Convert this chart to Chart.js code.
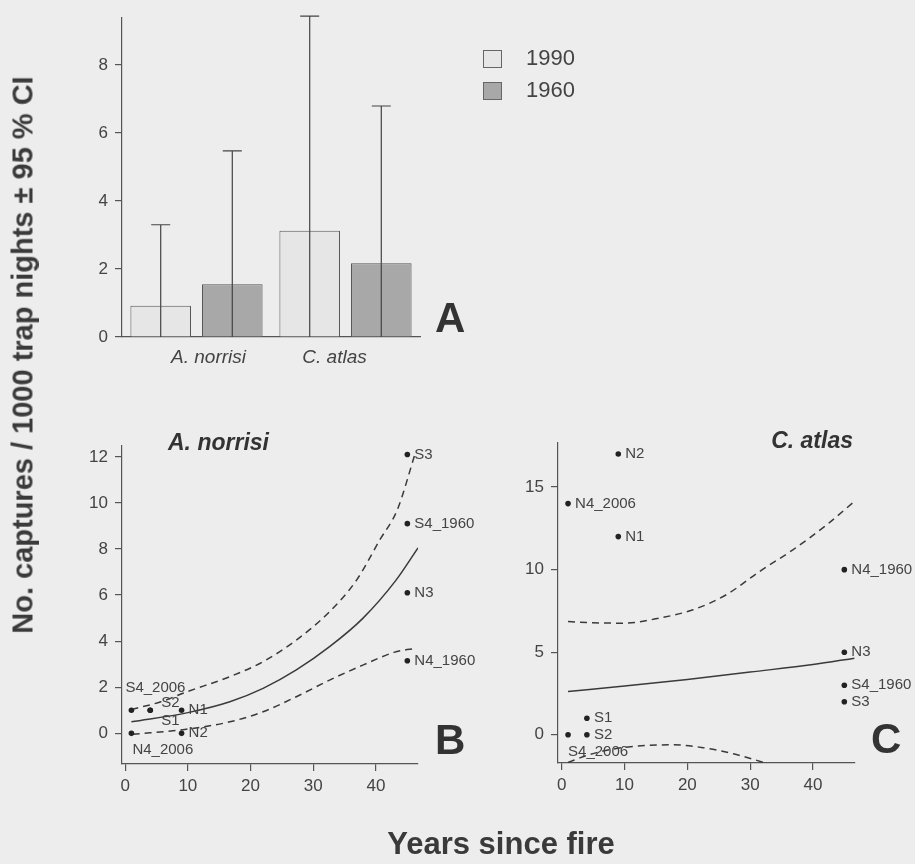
<!DOCTYPE html>
<html>
<head>
<meta charset="utf-8">
<script src="https://cdn.jsdelivr.net/npm/chart.js@4"></script>
<style>
  body { margin: 0; background: #ededed; }
  #wrap { position: relative; width: 915px; height: 864px; font-family: "Liberation Sans", Arial, sans-serif; color: #3a3a3a; }
  canvas { position: absolute; left: 0; top: 0; }
  .txt { position: absolute; white-space: nowrap; line-height: 1; }
  .letter { font-size: 42px; font-weight: bold; color: #333; }
  .ptitle { font-size: 23px; font-weight: bold; font-style: italic; color: #333; }
  .axtitle { font-weight: bold; color: #3a3a3a; }
</style>
</head>
<body>
<div id="wrap">
  <canvas id="chartA" width="915" height="864"></canvas>
  <canvas id="chartB" width="915" height="864"></canvas>
  <canvas id="chartC" width="915" height="864"></canvas>

  <div class="txt letter" style="left:435px; top:297px;">A</div>
  <div class="txt letter" style="left:435px; top:719px;">B</div>
  <div class="txt letter" style="left:871px; top:718px;">C</div>
  <div class="txt ptitle" style="left:168px; top:431px;">A. norrisi</div>
  <div class="txt ptitle" style="right:62px; top:429px;">C. atlas</div>
  <div class="txt axtitle" style="font-size:31px; left:501px; top:843px; transform: translate(-50%, -50%);">Years since fire</div>
  <div class="txt axtitle" style="font-size:29px; left:23px; top:355px; transform: translate(-50%, -50%) rotate(-90deg);">No. captures / 1000 trap nights ± 95 % CI</div>
</div>

<script>
// ---- panel A: mean captures with upper 95 % CI
const groups = ['A. norrisi', 'C. atlas'];
const mean1990 = [0.92, 3.12];
const upper1990 = [3.3, 9.43];
const mean1960 = [1.55, 2.17];
const upper1960 = [5.47, 6.79];
const ticksA = [0, 2, 4, 6, 8];

// ---- panel B: A. norrisi per site
const sitesB = ['S4_2006', 'S2', 'S1', 'N1', 'N4_2006', 'N2', 'S3', 'S4_1960', 'N3', 'N4_1960'];
const yearsB = [1, 4, 4, 9, 1, 9, 45, 45, 45, 45];
const capturesB = [1, 1, 1, 1, 0, 0, 12.1, 9.1, 6.1, 3.15];
const fitB_x = [1, 10, 16.7, 22, 27.3, 32.6, 37.9, 43.2, 46.7];
const fitB_y = [0.5, 0.9, 1.37, 1.95, 2.75, 3.76, 4.99, 6.65, 8.05];
const upperB_x = [1, 5.7, 9.8, 16.7, 22, 27.3, 32.6, 36.9, 40.6, 43.4, 46.2];
const upperB_y = [1.04, 1.37, 1.8, 2.46, 3.11, 4.05, 5.28, 6.65, 8.39, 9.7, 12.1];
const lowerB_x = [1.2, 9.5, 16.7, 22, 27.3, 32.6, 37.9, 43.2, 46.5];
const lowerB_y = [-0.04, 0.17, 0.5, 0.94, 1.59, 2.31, 2.96, 3.54, 3.69];
const ticksBy = [0, 2, 4, 6, 8, 10, 12];

// ---- panel C: C. atlas per site
const sitesC = ['N2', 'N4_2006', 'N1', 'N4_1960', 'N3', 'S4_1960', 'S3', 'S1', 'S2', 'S4_2006'];
const yearsC = [9, 1, 9, 45, 45, 45, 45, 4, 4, 1];
const capturesC = [17, 14, 12, 10, 5, 3, 2, 1, 0, 0];
const fitC_x = [1, 10, 20, 30, 40, 46.6];
const fitC_y = [2.62, 2.95, 3.35, 3.8, 4.25, 4.64];
const upperC_x = [1, 5, 10, 15.6, 20.9, 26.2, 31.5, 36.8, 42.2, 46.6];
const upperC_y = [6.86, 6.78, 6.76, 7.07, 7.57, 8.48, 9.89, 11.2, 12.72, 14.13];
const lowerC_x = [1, 4, 7, 11, 17.7, 22.5, 27.3, 32.4, 35];
const lowerC_y = [-1.68, -1.25, -0.95, -0.72, -0.61, -0.78, -1.15, -1.71, -2.05];
const ticksCy = [0, 5, 10, 15];

const ticksYears = [0, 10, 20, 30, 40];

const FONT = '"Liberation Sans", Arial, sans-serif';
const AXIS = '#555';
const TEXT = '#444';
const W = 915, H = 864;

function pts(xs, ys) { return xs.map((x, i) => ({ x: x, y: ys[i] })); }

function valueAxis(min, max, tickVals, isX) {
  return {
    type: 'linear', min: min, max: max,
    ticks: { color: TEXT, font: { family: FONT, size: 17 }, padding: isX ? 5 : 7, maxRotation: 0, autoSkip: false },
    grid: { drawOnChartArea: false, color: AXIS, tickLength: 7, lineWidth: 1.2 },
    border: { color: AXIS, width: 1.2 },
    afterBuildTicks: s => { s.ticks = tickVals.map(v => ({ value: v })); },
    afterFit: s => { if (isX) s.height = 40; else s.width = 40; }
  };
}

// chart area placed by padding: left/top/right/bottom of plotting box
function placed(L, T, R, B) {
  return { padding: { left: L - 40, top: T, right: W - R, bottom: H - B - 40 } };
}

// ---------------- A ----------------
const errorBars = {
  id: 'errorBars',
  afterDatasetsDraw(chart) {
    const ctx = chart.ctx, y = chart.scales.y;
    ctx.save();
    ctx.strokeStyle = '#444';
    ctx.lineWidth = 1.2;
    [upper1990, upper1960].forEach((up, di) => {
      chart.getDatasetMeta(di).data.forEach((bar, i) => {
        const top = y.getPixelForValue(up[i]);
        const base = y.getPixelForValue(0);
        ctx.beginPath();
        ctx.moveTo(bar.x, base); ctx.lineTo(bar.x, top);
        ctx.moveTo(bar.x - 9.5, top); ctx.lineTo(bar.x + 9.5, top);
        ctx.stroke();
      });
    });
    ctx.restore();
  }
};

// group names sit a little off the group centres, as in the original figure
const groupLabels = {
  id: 'groupLabels',
  afterDraw(chart) {
    const ctx = chart.ctx;
    const a = chart.getDatasetMeta(0).data, b = chart.getDatasetMeta(1).data;
    const shift = [12, -11];
    ctx.save();
    ctx.fillStyle = TEXT;
    ctx.font = 'italic 19px ' + FONT;
    ctx.textAlign = 'center';
    ctx.textBaseline = 'alphabetic';
    groups.forEach((g, i) => {
      ctx.fillText(g, (a[i].x + b[i].x) / 2 + shift[i], 363);
    });
    ctx.restore();
  }
};

const legendA = {
  id: 'legendA',
  afterDraw(chart) {
    const ctx = chart.ctx;
    ctx.save();
    chart.data.datasets.forEach((ds, i) => {
      const top = 50 + i * 32;
      ctx.fillStyle = ds.backgroundColor;
      ctx.fillRect(483, top, 18, 17);
      ctx.strokeStyle = '#666';
      ctx.lineWidth = 1;
      ctx.strokeRect(483.5, top + 0.5, 18, 17);
      ctx.fillStyle = TEXT;
      ctx.font = '22px ' + FONT;
      ctx.textBaseline = 'middle';
      ctx.fillText(ds.label, 526, top + 9);
    });
    ctx.restore();
  }
};

new Chart(document.getElementById('chartA'), {
  type: 'bar',
  data: {
    labels: groups,
    datasets: [
      { label: '1990', data: mean1990, backgroundColor: '#e6e6e6', borderColor: '#555', borderWidth: 1 },
      { label: '1960', data: mean1960, backgroundColor: '#a8a8a8', borderColor: '#555', borderWidth: 1 }
    ]
  },
  options: {
    responsive: false, animation: false, events: [],
    layout: placed(122, 16, 420, 337),
    categoryPercentage: 0.961, barPercentage: 0.846,
    plugins: { legend: { display: false }, tooltip: { enabled: false } },
    scales: {
      x: {
        ticks: { display: false },
        grid: { display: true, drawOnChartArea: false, drawTicks: false, color: AXIS },
        border: { color: AXIS, width: 1.2 },
        afterFit: s => { s.height = 40; }
      },
      y: valueAxis(0, 9.4, ticksA, false)
    }
  },
  plugins: [errorBars, groupLabels, legendA]
});

// ---------------- B and C ----------------
// where each site label sits relative to its dot
const nudges = {
  B: { S4_2006: [-6, -22], S2: [11, -7], S1: [11, 11], N4_2006: [1, 17] },
  C: { S4_2006: [0, 17] }
};

function siteLabels(panel, names) {
  return {
    id: 'siteLabels' + panel,
    afterDatasetsDraw(chart) {
      const ctx = chart.ctx;
      ctx.save();
      ctx.fillStyle = TEXT;
      ctx.font = '15px ' + FONT;
      ctx.textBaseline = 'middle';
      chart.getDatasetMeta(0).data.forEach((p, i) => {
        const off = nudges[panel][names[i]] || [7, 0];
        ctx.fillText(names[i], p.x + off[0], p.y + off[1]);
      });
      ctx.restore();
    }
  };
}

function curve(data, dashed) {
  return {
    type: 'line', data: data, showLine: true, pointRadius: 0,
    borderColor: '#3a3a3a', borderWidth: 1.5, borderDash: dashed ? [7, 5] : [],
    cubicInterpolationMode: 'monotone', fill: false
  };
}

function scatterPanel(id, panel, names, xs, ys, fit, up, lo, area, xr, yr, yTicks) {
  new Chart(document.getElementById(id), {
    type: 'scatter',
    data: {
      datasets: [
        { data: pts(xs, ys), pointRadius: 2.8, pointBackgroundColor: '#222', pointBorderWidth: 0 },
        curve(fit, false),
        curve(up, true),
        curve(lo, true)
      ]
    },
    options: {
      responsive: false, animation: false, events: [],
      layout: placed(area[0], area[1], area[2], area[3]),
      plugins: { legend: { display: false }, tooltip: { enabled: false } },
      scales: {
        x: valueAxis(xr[0], xr[1], ticksYears, true),
        y: valueAxis(yr[0], yr[1], yTicks, false)
      }
    },
    plugins: [siteLabels(panel, names)]
  });
}

scatterPanel('chartB', 'B', sitesB, yearsB, capturesB,
  pts(fitB_x, fitB_y), pts(upperB_x, upperB_y), pts(lowerB_x, lowerB_y),
  [122, 446, 418, 764], [-0.5, 46.7], [-1.33, 12.47], ticksBy);

scatterPanel('chartC', 'C', sitesC, yearsC, capturesC,
  pts(fitC_x, fitC_y), pts(upperC_x, upperC_y), pts(lowerC_x, lowerC_y),
  [558, 443, 855, 763], [-0.6, 46.7], [-1.71, 17.67], ticksCy);
</script>
</body>
</html>
